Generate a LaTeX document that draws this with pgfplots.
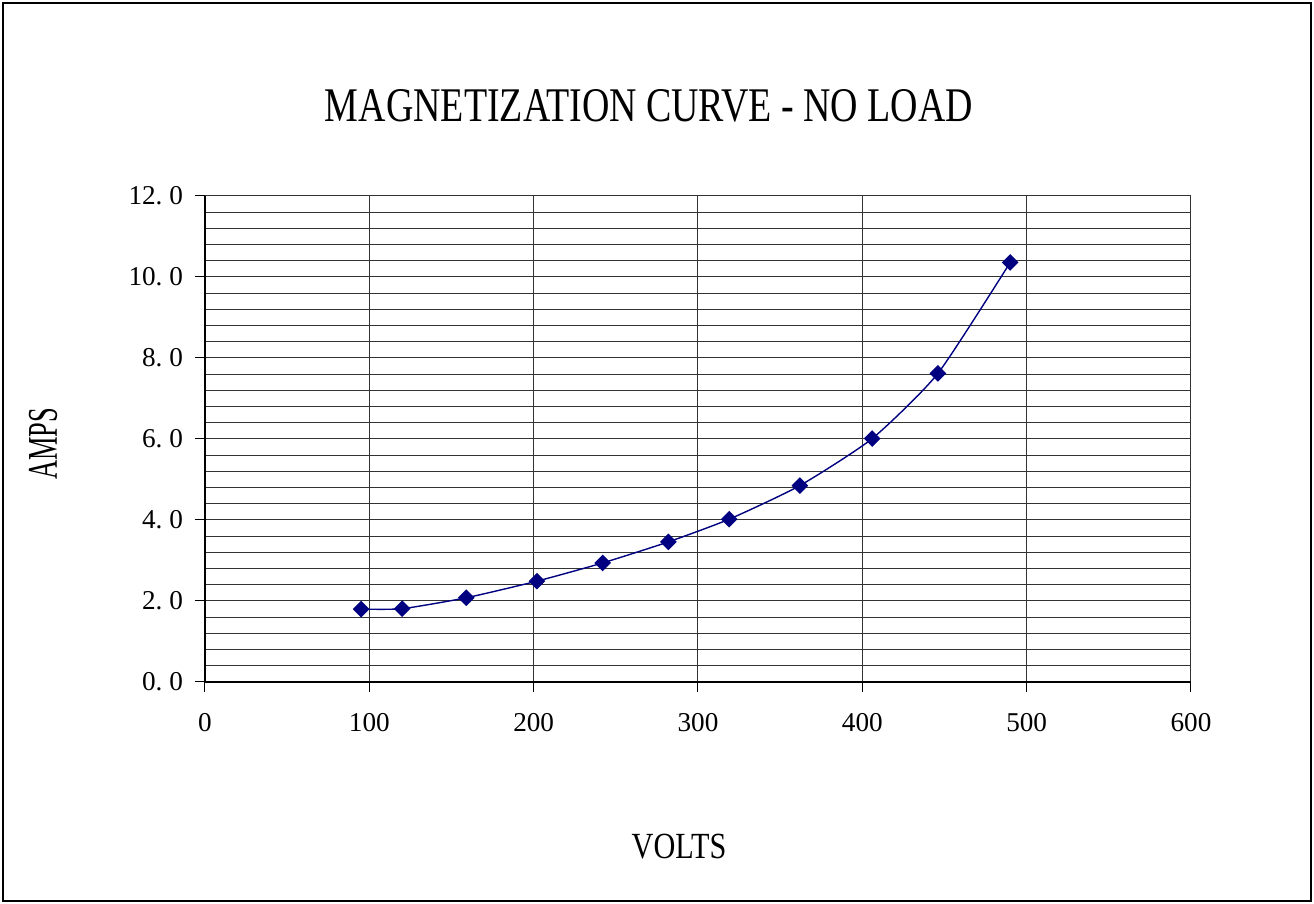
\documentclass[border=0pt]{standalone}
\usepackage{pgfplots}
\pgfplotsset{compat=1.18}
\usepackage{fontspec}
\setmainfont{Liberation Serif}
\definecolor{navyline}{RGB}{0,0,128}
\begin{document}
\begin{tikzpicture}
\useasboundingbox (-102.5pt,-111pt) rectangle (554.5pt,341pt);
\draw[line width=0.8pt] (-101pt,-109.5pt) rectangle (553pt,339.5pt);
\begin{axis}[
  at={(0,0)}, anchor=south west,
  scale only axis, width=493pt, height=243pt,
  xmin=0, xmax=600, ymin=0, ymax=12,
  axis lines=left,
  axis line style={-, black, line width=0.7pt},
  xtick={0,100,...,600},
  ytick={0,2,...,12},
  yticklabels={0.\ 0,2.\ 0,4.\ 0,6.\ 0,8.\ 0,10.\ 0,12.\ 0},
  minor y tick num=4,
  xmajorgrids=true, ymajorgrids=true, yminorgrids=true,
  major grid style={black!80, line width=0.5pt},
  minor grid style={black!80, line width=0.5pt},
  tick align=outside, major tick length=5pt, minor tick length=0pt,
  tick style={black, line width=0.5pt},
  /pgf/number format/assume math mode=true,
  ticklabel style={font=\fontsize{13.6}{16}\selectfont},
  xticklabel style={yshift=-7pt},
  yticklabel style={xshift=-2.5pt},
  clip=false,
]
\addplot[color=navyline, line width=0.7pt, smooth, tension=0.35,
  mark=square*, mark size=2.6pt, mark options={rotate=45, solid, fill=navyline}]
  coordinates {
  (95,1.80) (120,1.81) (159,2.08) (202,2.49) (242,2.94) (282,3.46)
  (319,4.02) (362,4.85) (406,6.01) (446,7.62) (490,10.36)
  };
\end{axis}
\node at (222pt,288pt) {\resizebox{324pt}{16pt}{MAGNETIZATION CURVE - NO LOAD}};
\node at (237pt,-82.5pt) {\resizebox{47.3pt}{12.2pt}{VOLTS}};
\node[rotate=90] at (-81pt,119pt) {\resizebox{36pt}{14pt}{AMPS}};
\end{tikzpicture}
\end{document}
